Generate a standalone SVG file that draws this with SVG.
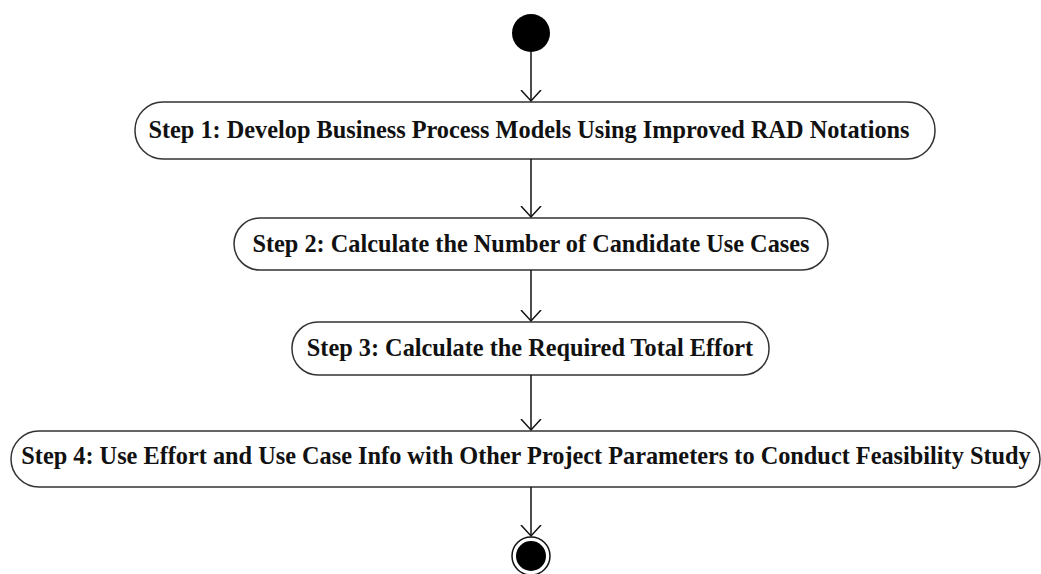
<svg xmlns="http://www.w3.org/2000/svg" width="1041" height="574" viewBox="0 0 1041 574">
<style>
.node{fill:#fff;stroke:#333;stroke-width:1.5}
.lbl{font-family:"Liberation Serif","Times New Roman",serif;font-weight:bold;font-size:24.3px;fill:#111;text-anchor:middle}
.edge{stroke:#111;stroke-width:1.5;fill:none}
</style>
<defs>
<marker id="open" markerWidth="14" markerHeight="22" refX="11" refY="11" orient="auto" markerUnits="userSpaceOnUse" viewBox="0 0 14 22">
<path d="M0,1 L11,11 L0,21" fill="none" stroke="#111" stroke-width="1.5"/>
</marker>
</defs>
<g id="start"><circle cx="531" cy="33" r="19" fill="#000"/></g>
<g id="step1"><rect class="node" x="135" y="102" width="800" height="57" rx="28"/><text class="lbl" x="529" y="138">Step 1: Develop Business Process Models Using Improved RAD Notations</text></g>
<g id="step2"><rect class="node" x="234" y="218" width="594" height="52" rx="26"/><text class="lbl" x="531" y="252">Step 2: Calculate the Number of Candidate Use Cases</text></g>
<g id="step3"><rect class="node" x="292" y="322" width="477" height="53" rx="26"/><text class="lbl" x="530" y="356">Step 3: Calculate the Required Total Effort</text></g>
<g id="step4"><rect class="node" x="11" y="431" width="1029" height="56" rx="28"/><text class="lbl" x="526" y="464">Step 4: Use Effort and Use Case Info with Other Project Parameters to Conduct Feasibility Study</text></g>
<g id="end"><circle cx="531" cy="556" r="19" fill="#fff" stroke="#111" stroke-width="1.5"/><circle cx="531" cy="556" r="15" fill="#000"/></g>
<g id="connectors">
<path class="edge" d="M531,52 V101" marker-end="url(#open)"/>
<path class="edge" d="M531,159 V217" marker-end="url(#open)"/>
<path class="edge" d="M531,270 V321" marker-end="url(#open)"/>
<path class="edge" d="M531,375 V430" marker-end="url(#open)"/>
<path class="edge" d="M531,487 V536" marker-end="url(#open)"/>
</g>
</svg>
